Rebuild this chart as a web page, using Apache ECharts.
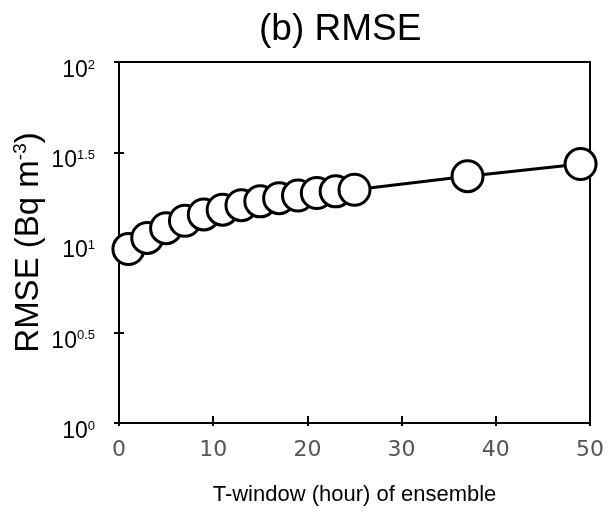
<!DOCTYPE html>
<html>
<head>
<meta charset="utf-8">
<script src="https://cdn.jsdelivr.net/npm/echarts@6/dist/echarts.min.js"></script>
<style>
  html, body { margin: 0; padding: 0; background: #fff; }
  #chart { width: 612px; height: 515px; }
</style>
</head>
<body>
<div id="chart"></div>
<script>
// T-window (hour) and RMSE (Bq m-3)
var tWindow = [1, 3, 5, 7, 9, 11, 13, 15, 17, 19, 21, 23, 25, 37, 49];
var rmse = [9.2, 10.6, 12.0, 13.2, 14.3, 15.2, 16.1, 16.9, 17.6, 18.2, 18.8, 19.2, 19.6, 23.3, 27.2];
var xTicks = [0, 10, 20, 30, 40, 50];
var yExponents = [0, 0.5, 1, 1.5, 2];

var FONT = '"Liberation Sans", Arial, Helvetica, sans-serif';

var myChart = echarts.init(document.getElementById('chart'), null, { renderer: 'canvas' });

function yLabel(v) {
    var e = Math.round(Math.log10(v) * 2) / 2;
    return '{b|10}{s|' + e + '}';
}

var pts = [];
for (var i = 0; i < tWindow.length; i++) {
    pts.push([tWindow[i], rmse[i]]);
}

var option = {
    backgroundColor: '#fff',
    animation: false,
    title: {
        text: '(b) RMSE',
        left: 254,
        top: 6,
        textStyle: { fontFamily: FONT, fontSize: 37, fontWeight: 'normal', color: '#000' }
    },
    grid: {
        left: 119, right: 22, top: 62, bottom: 92,
        outerBoundsMode: 'none',
        show: true, borderColor: '#000', borderWidth: 2, backgroundColor: 'transparent'
    },
    xAxis: [
        {
            type: 'value',
            min: xTicks[0], max: xTicks[xTicks.length - 1], interval: 10,
            axisLine: { show: true, lineStyle: { color: '#000', width: 2 } },
            axisTick: { show: true, inside: true, length: 7, lineStyle: { color: '#000', width: 2 } },
            splitLine: { show: false },
            axisLabel: {
                margin: 16,
                fontFamily: '"DejaVu Sans", sans-serif',
                fontSize: 22,
                color: '#555'
            },
            name: 'T-window (hour) of ensemble',
            nameLocation: 'middle',
            nameGap: 61,
            nameMoveOverlap: false,
            nameTextStyle: { fontFamily: FONT, fontSize: 22, color: '#000' }
        },
        {
            type: 'value',
            position: 'bottom',
            min: xTicks[0], max: xTicks[xTicks.length - 1], interval: 10,
            axisLine: { show: false },
            axisTick: { show: true, inside: false, length: 3, lineStyle: { color: '#000', width: 2 } },
            axisLabel: { show: false },
            splitLine: { show: false }
        }
    ],
    yAxis: [
        {
            type: 'log',
            logBase: 10,
            min: Math.pow(10, yExponents[0]),
            max: Math.pow(10, yExponents[yExponents.length - 1]),
            interval: 0.5,
            axisLine: { show: true, lineStyle: { color: '#000', width: 2 } },
            axisTick: { show: true, inside: true, length: 5, lineStyle: { color: '#000', width: 2 } },
            splitLine: { show: false },
            axisLabel: {
                margin: 24,
                formatter: yLabel,
                padding: [17, 0, 0, 0],
                rich: {
                    b: { fontFamily: FONT, fontSize: 23, color: '#000', lineHeight: 24 },
                    s: { fontFamily: FONT, fontSize: 13, color: '#000', lineHeight: 13, verticalAlign: 'top' }
                }
            },
            name: '{n|RMSE (Bq m}{s|-3}{n|)}',
            nameLocation: 'middle',
            nameGap: 72,
            nameMoveOverlap: false,
            nameTextStyle: {
                rich: {
                    n: { fontFamily: FONT, fontSize: 33, color: '#000', lineHeight: 36 },
                    s: { fontFamily: FONT, fontSize: 19, color: '#000', lineHeight: 19, verticalAlign: 'top' }
                }
            }
        },
        {
            type: 'log',
            logBase: 10,
            position: 'left',
            min: Math.pow(10, yExponents[0]),
            max: Math.pow(10, yExponents[yExponents.length - 1]),
            interval: 0.5,
            axisLine: { show: false },
            axisTick: { show: true, inside: false, length: 5, lineStyle: { color: '#000', width: 2 } },
            axisLabel: { show: false },
            splitLine: { show: false }
        }
    ],
    series: [
        {
            type: 'line',
            data: pts,
            symbol: 'circle',
            symbolSize: 31,
            itemStyle: { color: '#fff', borderColor: '#000', borderWidth: 3 },
            lineStyle: { color: '#000', width: 3 },
            z: 3
        }
    ]
};

myChart.setOption(option);
</script>
</body>
</html>
